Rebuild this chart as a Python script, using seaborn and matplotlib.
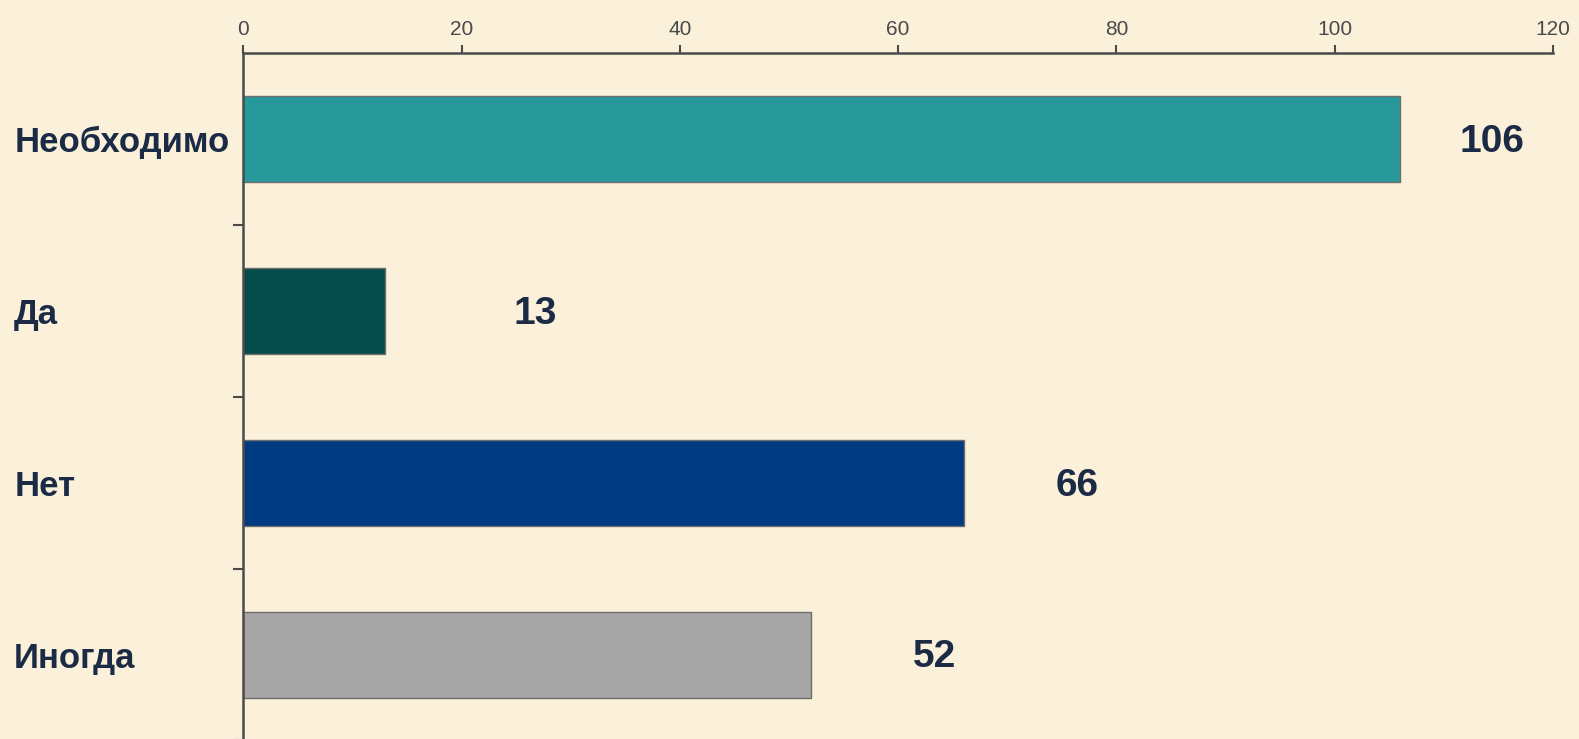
import matplotlib
matplotlib.use("Agg")
import matplotlib.pyplot as plt
import seaborn as sns
import pandas as pd

# data
categories = ["Необходимо", "Да", "Нет", "Иногда"]
counts = [106, 13, 66, 52]
bar_colors = ["#27999A", "#034C4A", "#003A80", "#A6A6A6"]
x_ticks = [0, 20, 40, 60, 80, 100, 120]

df = pd.DataFrame({"answer": categories, "count": counts})

sns.set_style("white")
plt.rcParams["font.family"] = ["Liberation Sans", "DejaVu Sans"]

bg = "#FBF0DA"
fig = plt.figure(figsize=(15.79, 7.39), dpi=100, facecolor=bg)
ax = fig.add_axes([0.1541, -0.002, 0.8294, 0.930])
ax.set_facecolor(bg)

sns.barplot(
    data=df, x="count", y="answer", hue="answer",
    palette=bar_colors, saturation=1, orient="h", width=0.5,
    edgecolor="#6E6E6E", linewidth=1.0, legend=False, ax=ax
)

ax.set_xlim(0, 120)
ax.set_ylim(3.5, -0.5)
ax.set_xticks(x_ticks)
ax.xaxis.tick_top()
ax.xaxis.set_label_position("top")
ax.set_xlabel("")
ax.set_ylabel("")

ax.tick_params(axis="x", which="major", top=True, bottom=False, direction="out",
               length=6, width=1.5, color="#4A4A4A", labelsize=15,
               labelcolor="#4A4A4A", pad=4)
ax.tick_params(axis="y", which="major", left=False, length=0, pad=165)
ax.set_yticks([0.5, 1.5, 2.5, 3.5], minor=True)
ax.tick_params(axis="y", which="minor", left=True, direction="out",
               length=7, width=1.5, color="#4A4A4A")

for lab in ax.get_yticklabels():
    lab.set_fontsize(25)
    lab.set_fontweight("bold")
    lab.set_color("#1C2B45")
    lab.set_horizontalalignment("left")

for side in ["right", "bottom"]:
    ax.spines[side].set_visible(False)
for side in ["left", "top"]:
    ax.spines[side].set_color("#4A4A4A")
    ax.spines[side].set_linewidth(1.8)

# value labels, offsets follow the picture
label_offsets = [66, 108, 82, 89]
for i, (v, off) in enumerate(zip(counts, label_offsets)):
    ax.annotate(str(v), xy=(v, i), xytext=(off, -2), textcoords="offset points",
                ha="center", va="center", fontsize=28, fontweight="bold",
                color="#1C2B45")

fig.savefig("out.png", dpi=100, facecolor=bg)
